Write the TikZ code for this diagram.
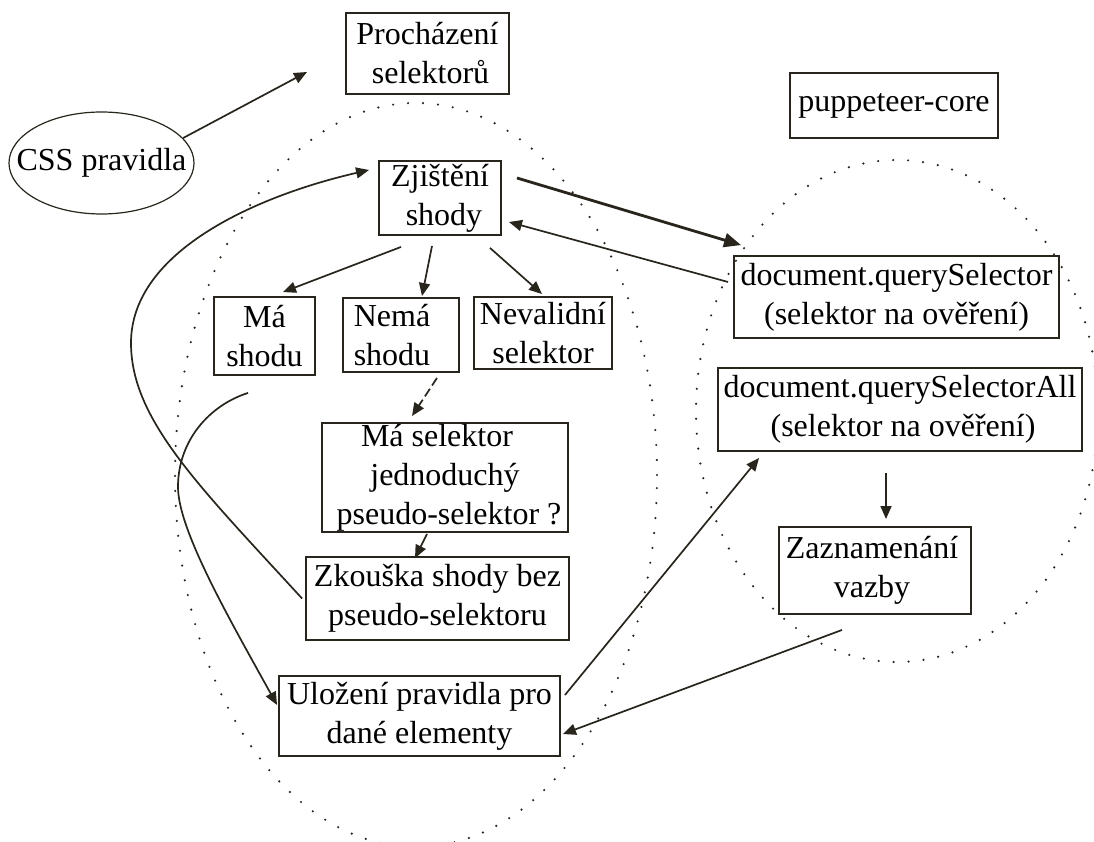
\documentclass[tikz,border=0pt]{standalone}
\usepackage{fontspec}
\setmainfont{Liberation Serif}
\usetikzlibrary{arrows.meta,shapes.geometric}
\definecolor{ink}{RGB}{40,38,28}
\begin{document}
\begin{tikzpicture}[x=1pt,y=-1pt,
  txt/.style={font=\fontsize{32}{39}\selectfont,text=black,align=center},
  box/.style={txt,draw=ink,line width=1.9pt,rectangle,inner sep=0pt},
  oval/.style={txt,draw=ink,line width=1.2pt,ellipse,inner sep=0pt},
  link/.style={draw=ink,line width=1.7pt,-{Triangle[length=13pt,width=11pt]}},
  dashlink/.style={link,dash pattern=on 9pt off 4pt},
  boldlink/.style={draw=ink,line width=2.8pt,-{Triangle[length=17pt,width=14pt]}},
  ring/.style={draw=ink,line width=2.4pt,line cap=round,dash pattern=on 0pt off 15pt}]

\useasboundingbox (0,0) rectangle (1094,842);
\fill[white] (0,0) rectangle (1094,842);

% dotted groupings: the page-side steps and the puppeteer calls
\draw[ring] (416,475) ellipse [x radius=241pt, y radius=372pt];
\draw[ring] (897,411) ellipse [x radius=201pt, y radius=251pt];

% nodes
\node[box,minimum width=163pt,minimum height=81pt] (proch) at (427.5,53.5) {Procházení\\\hspace*{6pt}selektorů};
\node[oval,minimum width=185pt,minimum height=102pt] (css) at (101.5,163) {\makebox[0pt]{CSS pravidla}};
\node[box,minimum width=208pt,minimum height=65pt] (pup) at (894,105.5) {puppeteer-core};
\node[box,minimum width=122pt,minimum height=74pt] (zj) at (440,198) {Zjištění\\\hspace*{8pt}shody};
\node[box,minimum width=325pt,minimum height=82pt] (qs) at (896.5,297) {document.querySelector\\(selektor na ověření)};
\node[box,minimum width=364pt,minimum height=83pt] (qsa) at (900,409.5) {document.querySelectorAll\\\hspace*{6pt}(selektor na ověření)};
\node[box,minimum width=101pt,minimum height=78pt] (masho) at (264.5,336) {Má\\shodu};
\node[box,minimum width=116pt,minimum height=74pt] (nema) at (401,335) {Nemá\hspace*{18pt}\\shodu\hspace*{18pt}};
\node[box,minimum width=138pt,minimum height=72pt] (neval) at (543,333) {Nevalidní\\selektor};
\node[box,minimum width=246pt,minimum height=109pt] (masel) at (445,477.5) {Má selektor\hspace*{16pt}\\jednoduchý\hspace*{20pt}\\\hspace*{8pt}pseudo-selektor ?};
\node[box,minimum width=263pt,minimum height=83pt] (zk) at (437.5,598.5) {Zkouška shody bez\\pseudo-selektoru};
\node[box,minimum width=281pt,minimum height=80pt] (ul) at (419.5,716) {Uložení pravidla pro\\dané elementy};
\node[box,minimum width=192pt,minimum height=87pt] (zaz) at (875,570.5) {Zaznamenání\hspace*{6pt}\\vazby\hspace*{6pt}};

\coordinate (cssTip) at (307,72);

% connectors
\draw[link] (css.17) -- (cssTip);
\draw[boldlink] ([xshift=15pt,yshift=20pt]zj.east) -- ([xshift=8pt,yshift=10pt]qs.north west);
\draw[link] ([xshift=-5pt,yshift=15pt]qs.west) -- ([xshift=7pt,yshift=-24pt]zj.east);
\draw[link] ([xshift=-39pt,yshift=-11pt]zj.south) -- ([xshift=18.5pt,yshift=4pt]masho.north);
\draw[link] ([xshift=-8pt,yshift=-10pt]zj.south) -- ([xshift=21pt,yshift=1pt]nema.north);
\draw[link] ([xshift=50pt,yshift=-12pt]zj.south) -- ([xshift=-1pt,yshift=2pt]neval.north);
\draw[dashlink] ([xshift=36pt,yshift=-5pt]nema.south) -- ([xshift=-33pt,yshift=6pt]masel.north);
\draw[link] ([xshift=-18pt,yshift=-1pt]masel.south) -- ([xshift=-22.5pt,yshift=-2pt]zk.north);
\draw[link] ([xshift=-14pt,yshift=-21pt]qsa.south) -- ([xshift=11pt,yshift=7pt]zaz.north);
\draw[link] ([xshift=-33pt,yshift=-15pt]zaz.south) -- ([xshift=2pt,yshift=-18pt]ul.east);
\draw[link] ([xshift=4pt,yshift=21pt]ul.east) -- ([xshift=42pt,yshift=-6pt]qsa.south west);

% loop back from the retry to the matching step
\draw[link] ([xshift=-3pt]zk.west) .. controls (200,487) and (131,420) .. (131,343)
  .. controls (131,250) and (260,195) .. ([xshift=-9pt,yshift=28pt]zj.west);
% a match goes to storing the rule
\draw[link] ([xshift=-16.5pt,yshift=-17pt]masho.south) .. controls (210,405) and (178,440) .. (178,487)
  .. controls (178,530) and (230,620) .. ([xshift=-1pt,yshift=11pt]ul.west);
\end{tikzpicture}
\end{document}
